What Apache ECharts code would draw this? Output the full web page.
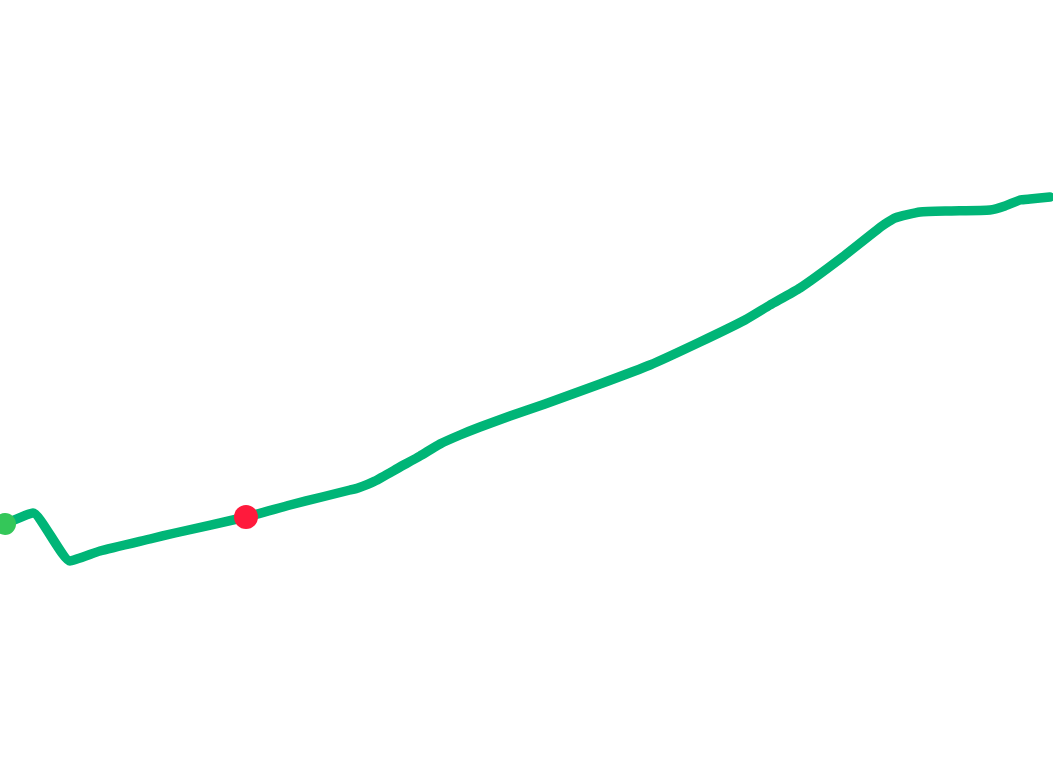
<!DOCTYPE html>
<html>
<head>
<meta charset="utf-8">
<script src="https://cdn.jsdelivr.net/npm/echarts@6/dist/echarts.min.js"></script>
<style>html,body{margin:0;padding:0;background:#fff}#c{width:1053px;height:759px}</style>
</head>
<body>
<div id="c"></div>
<script>
// Route trace (x, y in chart units; y grows downward)
const routeX = [5, 33, 70, 100, 150, 175, 246, 290, 322, 350, 358, 375, 400, 420, 440, 460, 480, 510, 545, 600, 650, 700, 745, 770, 800, 840, 882, 895, 920, 950, 990, 1005, 1020, 1030, 1050];
const routeY = [524, 513, 561, 551, 539, 533, 517, 505, 497, 490, 488, 481, 467, 456, 444, 435, 427, 416, 404, 384, 365, 342, 320, 305, 288, 259, 226, 218, 212, 211, 210, 206, 200, 199, 197];
const startPoint = [5, 524];
const currentPoint = [246, 517];

const chart = echarts.init(document.getElementById('c'));
chart.setOption({
  animation: false,
  backgroundColor: '#ffffff',
  grid: { left: 0, right: 0, top: 0, bottom: 0 },
  xAxis: { type: 'value', min: 0, max: 1053, show: false },
  yAxis: { type: 'value', min: 0, max: 759, inverse: true, show: false },
  series: [
    {
      type: 'line',
      data: routeX.map((x, i) => [x, routeY[i]]),
      showSymbol: false,
      smooth: 0.15,
      clip: false,
      lineStyle: { color: '#00b577', width: 9.5, cap: 'round', join: 'round' },
      z: 2
    },
    {
      type: 'scatter',
      data: [startPoint],
      symbolSize: 22,
      itemStyle: { color: '#34c759', opacity: 1 },
      z: 3
    },
    {
      type: 'scatter',
      data: [currentPoint],
      symbolSize: 24,
      itemStyle: { color: '#ff1a3c', opacity: 1 },
      z: 3
    }
  ]
});
</script>
</body>
</html>
